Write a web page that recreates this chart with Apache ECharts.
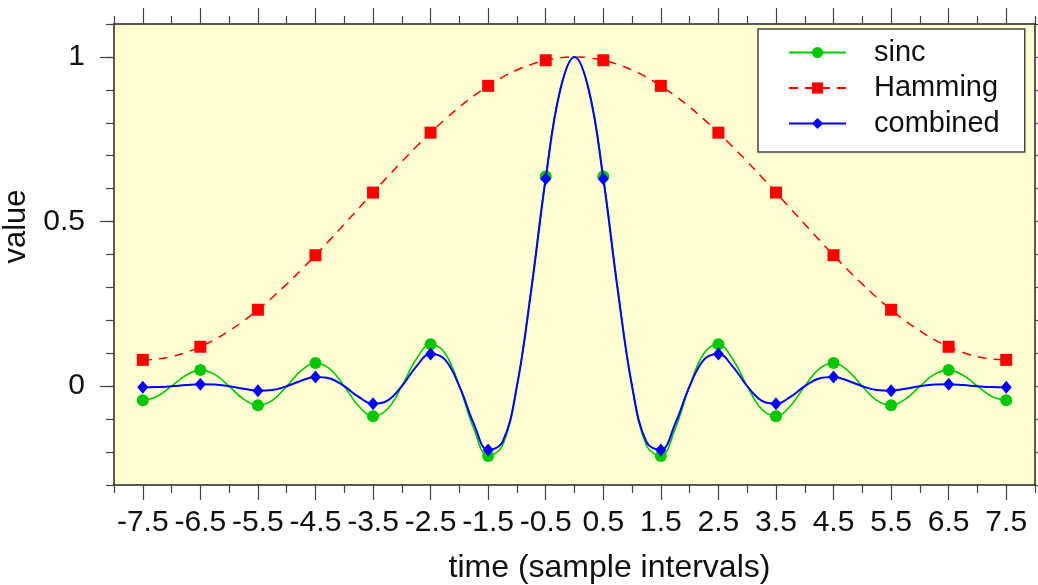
<!DOCTYPE html>
<html>
<head>
<meta charset="utf-8">
<script src="https://cdn.jsdelivr.net/npm/echarts@6/dist/echarts.min.js"></script>
<style>
html,body{margin:0;padding:0;background:#fff;}
#chart{width:1038px;height:585px;}
</style>
</head>
<body>
<div id="chart"></div>
<script>
// Dense x positions of the drawn curves (step 0.25)
var curveX = [-7.5,-7.25,-7,-6.75,-6.5,-6.25,-6,-5.75,-5.5,-5.25,-5,-4.75,-4.5,-4.25,-4,-3.75,-3.5,-3.25,-3,-2.75,-2.5,-2.25,-2,-1.75,-1.5,-1.25,-1,-0.75,-0.5,-0.25,0,0.25,0.5,0.75,1,1.25,1.5,1.75,2,2.25,2.5,2.75,3,3.25,3.5,3.75,4,4.25,4.5,4.75,5,5.25,5.5,5.75,6,6.25,6.5,6.75,7,7.25,7.5];

// Sample instants (markers) and x tick labels
var sampleX = [-7.5,-6.5,-5.5,-4.5,-3.5,-2.5,-1.5,-0.5,0.5,1.5,2.5,3.5,4.5,5.5,6.5,7.5];
var yLabels = [0,0.5,1];

var sincValues = [-0.0424,-0.0310,0,0.0333,0.0490,0.0360,0,-0.0391,-0.0579,-0.0429,0,0.0474,0.0707,0.0530,0,-0.0600,-0.0909,-0.0693,0,0.0818,0.1273,0.1000,0,-0.1286,-0.2122,-0.1801,0,0.3001,0.6366,0.9003,
  1,
  0.9003,0.6366,0.3001,0,-0.1801,-0.2122,-0.1286,0,0.1000,0.1273,0.0818,0,-0.0693,-0.0909,-0.0600,0,0.0530,0.0707,0.0474,0,-0.0429,-0.0579,-0.0391,0,0.0360,0.0490,0.0333,0,-0.0310,-0.0424];

var hammingValues = [0.08,0.0825,0.0901,0.1025,0.1198,0.1416,0.1678,0.1982,0.2322,0.2696,0.31,0.3529,0.3979,0.4444,0.4919,0.54,0.5881,0.6356,0.6821,0.7271,0.77,0.8104,0.8478,0.8818,0.9122,0.9384,0.9602,0.9775,0.9899,0.9975,
  1,
  0.9975,0.9899,0.9775,0.9602,0.9384,0.9122,0.8818,0.8478,0.8104,0.77,0.7271,0.6821,0.6356,0.5881,0.54,0.4919,0.4444,0.3979,0.3529,0.31,0.2696,0.2322,0.1982,0.1678,0.1416,0.1198,0.1025,0.0901,0.0825,0.08];

var combinedValues = [-0.0034,-0.0026,0,0.0034,0.0059,0.0051,0,-0.0077,-0.0134,-0.0116,0,0.0167,0.0281,0.0236,0,-0.0324,-0.0535,-0.0440,0,0.0595,0.0980,0.0810,0,-0.1134,-0.1936,-0.1690,0,0.2933,0.6302,0.8980,
  1,
  0.8980,0.6302,0.2933,0,-0.1690,-0.1936,-0.1134,0,0.0810,0.0980,0.0595,0,-0.0440,-0.0535,-0.0324,0,0.0236,0.0281,0.0167,0,-0.0116,-0.0134,-0.0077,0,0.0051,0.0059,0.0034,0,-0.0026,-0.0034];

function build(values) {
  return curveX.map(function (x, i) {
    var item = { value: [x, values[i]] };
    if (sampleX.indexOf(x) < 0) item.symbol = 'none';
    return item;
  });
}

var FONT = 'Liberation Sans, Arial, Helvetica, sans-serif';
var AX = '#222';
var TK = '#444';

var chart = echarts.init(document.getElementById('chart'), null, {renderer: 'canvas'});
var option = {
  animation: false,
  backgroundColor: '#ffffff',
  textStyle: {fontFamily: FONT},
  grid: {left: 114, right: 3, top: 24, bottom: 100, show: true, backgroundColor: '#ffffd2', borderWidth: 0,
         containLabel: false, outerBoundsMode: 'none'},
  legend: {
    orient: 'vertical',
    left: 758, top: 29,
    backgroundColor: '#ffffff',
    borderColor: '#444', borderWidth: 1.5, borderRadius: 0,
    padding: [9, 25, 14, 30],
    itemWidth: 57, itemHeight: 14, itemGap: 6.5,
    textStyle: {fontFamily: FONT, fontSize: 29, color: '#111', lineHeight: 28, padding: [0, 0, 0, 23]},
    selectedMode: false,
    data: ['sinc', 'Hamming', 'combined']
  },
  xAxis: [
    {
      type: 'value', min: -8, max: 8, position: 'bottom',
      axisLine: {show: true, onZero: false, lineStyle: {color: AX, width: 1.5}},
      axisTick: {show: true, inside: false, length: 15, customValues: sampleX, lineStyle: {color: TK, width: 1.2}},
      axisLabel: {show: true, customValues: sampleX, fontSize: 30, color: '#111', margin: 23, fontFamily: FONT},
      splitLine: {show: false},
      name: 'time (sample intervals)', nameLocation: 'middle', nameGap: 67,
      nameTextStyle: {fontSize: 32, color: '#111', fontFamily: FONT, padding: [0, 0, 0, 70]}
    },
    {
      type: 'value', min: -8, max: 8, interval: 1, position: 'bottom',
      axisLine: {show: false, onZero: false},
      axisTick: {show: true, inside: false, length: 8, lineStyle: {color: TK, width: 1.2}},
      axisLabel: {show: false}, splitLine: {show: false}
    },
    {
      type: 'value', min: -8, max: 8, position: 'top',
      axisLine: {show: true, onZero: false, lineStyle: {color: AX, width: 1.5}},
      axisTick: {show: true, inside: false, length: 16, customValues: sampleX, lineStyle: {color: TK, width: 1.2}},
      axisLabel: {show: false}, splitLine: {show: false}
    },
    {
      type: 'value', min: -8, max: 8, interval: 1, position: 'top',
      axisLine: {show: false, onZero: false},
      axisTick: {show: true, inside: false, length: 8, lineStyle: {color: TK, width: 1.2}},
      axisLabel: {show: false}, splitLine: {show: false}
    }
  ],
  yAxis: [
    {
      type: 'value', min: -0.3, max: 1.1, position: 'left',
      axisLine: {show: true, onZero: false, lineStyle: {color: AX, width: 1.5}},
      axisTick: {show: true, inside: false, length: 14, customValues: yLabels, lineStyle: {color: TK, width: 1.2}},
      axisLabel: {show: true, customValues: yLabels, fontSize: 30, color: '#111', margin: 29, fontFamily: FONT},
      splitLine: {show: false},
      name: 'value', nameLocation: 'middle', nameGap: 76,
      nameTextStyle: {fontSize: 31, color: '#111', fontFamily: FONT, padding: [0, 0, 0, 56]}
    },
    {
      type: 'value', min: -0.3, max: 1.1, interval: 0.1, position: 'left',
      axisLine: {show: false, onZero: false},
      axisTick: {show: true, inside: false, length: 8, lineStyle: {color: TK, width: 1.2}},
      axisLabel: {show: false}, splitLine: {show: false}
    },
    {
      type: 'value', min: -0.3, max: 1.1, interval: 0.1, position: 'right',
      axisLine: {show: true, onZero: false, lineStyle: {color: AX, width: 1.5}},
      axisTick: {show: true, inside: false, length: 8, lineStyle: {color: TK, width: 1.2}},
      axisLabel: {show: false}, splitLine: {show: false}
    }
  ],
  series: [
    {
      name: 'sinc', type: 'line', xAxisIndex: 0, yAxisIndex: 0,
      data: build(sincValues), smooth: 0.4,
      symbol: 'circle', symbolSize: 12,
      color: '#00c800',
      lineStyle: {color: '#00c800', width: 1.6},
      itemStyle: {color: '#00c800'},
      z: 3
    },
    {
      name: 'Hamming', type: 'line', xAxisIndex: 0, yAxisIndex: 0,
      data: build(hammingValues), smooth: 0.4,
      symbol: 'rect', symbolSize: 12,
      color: '#ff0000',
      lineStyle: {color: '#ff0000', width: 1.5, type: [9, 7]},
      itemStyle: {color: '#ff0000'},
      z: 4
    },
    {
      name: 'combined', type: 'line', xAxisIndex: 0, yAxisIndex: 0,
      data: build(combinedValues), smooth: 0.4,
      symbol: 'diamond', symbolSize: [11, 13],
      color: '#0000ff',
      lineStyle: {color: '#0000ff', width: 2},
      itemStyle: {color: '#0000ff'},
      z: 5
    }
  ]
};
chart.setOption(option);
</script>
</body>
</html>
